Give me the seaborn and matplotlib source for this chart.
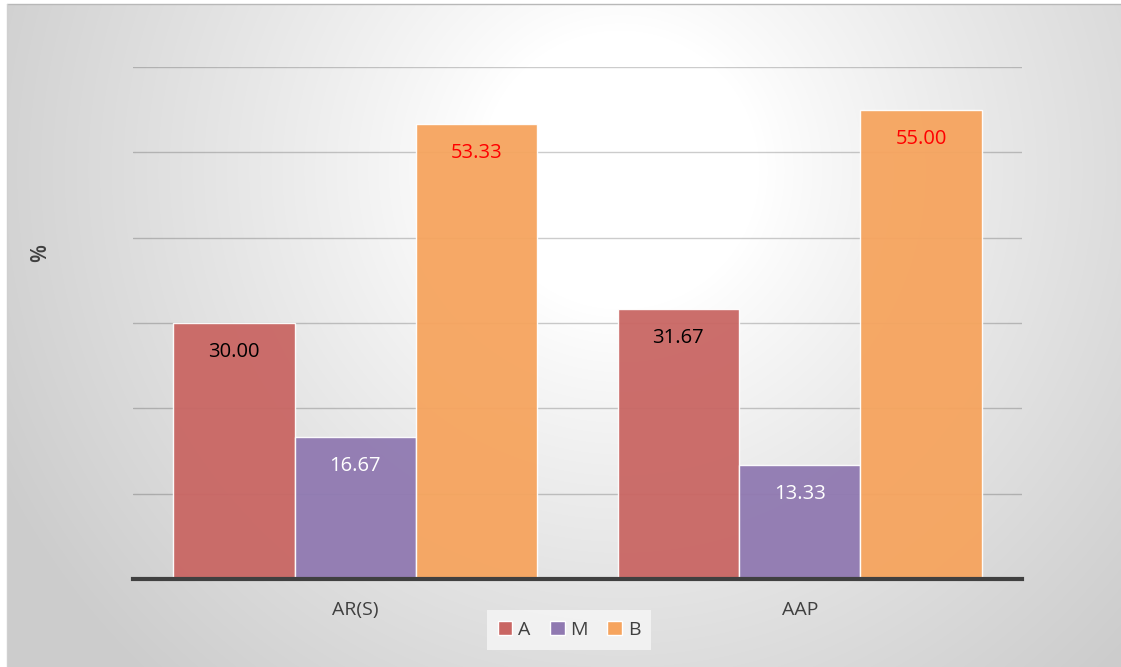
import numpy as np
import pandas as pd
import matplotlib
matplotlib.use("Agg")
import matplotlib.pyplot as plt
import seaborn as sns

# 数据
categories = ["AR(S)", "AAP"]
series = ["A", "M", "B"]
val_a = [30.00, 31.67]
val_m = [16.67, 13.33]
val_b = [53.33, 55.00]

colors = ["#c96663", "#9079b1", "#f6a45e"]
label_colors = ["black", "white", "red"]

df = pd.DataFrame({
    "cat": categories * 3,
    "series": ["A"] * 2 + ["M"] * 2 + ["B"] * 2,
    "value": val_a + val_m + val_b,
})

sns.set_style("white")
plt.rcParams['font.family'] = ['Open Sans', 'DejaVu Sans']

fig = plt.figure(figsize=(11.21, 6.67), dpi=100, facecolor="white")
w, h = 1121, 667

# 背景：径向渐变
bg = fig.add_axes([0, 0, 1, 1], zorder=-10)
yy, xx = np.mgrid[4:h, 7:w]
r = np.sqrt(((xx - 620) / 700.0) ** 2 + ((yy - 170) / 700.0) ** 2)
g = 1.0 - 0.2 * np.clip((r - 0.2) / 0.8, 0, 1) ** 0.9
img = np.dstack([g, g, g])
bg.imshow(img, aspect="auto", extent=[7 / w, 1, 0, 1 - 4 / h],
          origin="upper", interpolation="bilinear")
bg.plot([7 / w, 1], [1 - 4 / h] * 2, color="#b8b8b8", lw=1)
bg.plot([7 / w] * 2, [0, 1 - 4 / h], color="#d0d0d0", lw=1)
bg.set_xlim(0, 1)
bg.set_ylim(0, 1)
bg.set_axis_off()

ax = fig.add_axes([133 / w, 1 - 579 / h, (1022 - 133) / w, (579 - 67) / h])
ax.set_facecolor("none")

sns.barplot(data=df, x="cat", y="value", hue="series", palette=colors,
            saturation=1, width=0.82, alpha=0.95, edgecolor="white",
            linewidth=1.0, ax=ax, legend=False, zorder=3)

ax.set_ylim(0, 60)
ax.set_xlim(-0.5, 1.5)
ax.set_yticks(np.arange(0, 61, 10))
ax.set_yticklabels([])
ax.tick_params(axis="y", length=0)
ax.tick_params(axis="x", length=0, labelsize=14, colors="#404040", pad=16)
ax.grid(axis="y", color="black", alpha=0.2, lw=1.0, zorder=0)
ax.set_axisbelow(True)
for s in ["top", "right", "left"]:
    ax.spines[s].set_visible(False)
ax.spines["bottom"].set_color("#404040")
ax.spines["bottom"].set_linewidth(3)
ax.spines["bottom"].set_zorder(5)
ax.set_xlabel("")
ax.set_ylabel("")

# 数值标签
for cont, col in zip(ax.containers, label_colors):
    ax.bar_label(cont, fmt="%.2f", label_type="edge", padding=-28,
                 color=col, fontsize=14.5)

fig.text(41 / w, 1 - 253 / h, "%", rotation=90, fontsize=15,
         fontweight="semibold", color="#404040", ha="center", va="center")

handles = [plt.Rectangle((0, 0), 1, 1, facecolor=c, edgecolor="white")
           for c in colors]
leg = fig.legend(handles, series, loc="center", bbox_to_anchor=(569 / w, 1 - 630 / h),
                 ncol=3, frameon=True, fontsize=14, handlelength=0.75,
                 handleheight=0.75, handletextpad=0.3, columnspacing=1.0,
                 borderpad=0.55)
leg.get_frame().set_facecolor("#f4f4f4")
leg.get_frame().set_edgecolor("none")
leg.get_frame().set_alpha(0.9)
leg.get_frame().set_boxstyle("square", pad=0)
for t in leg.get_texts():
    t.set_color("#404040")

fig.savefig("out.png", dpi=100)
